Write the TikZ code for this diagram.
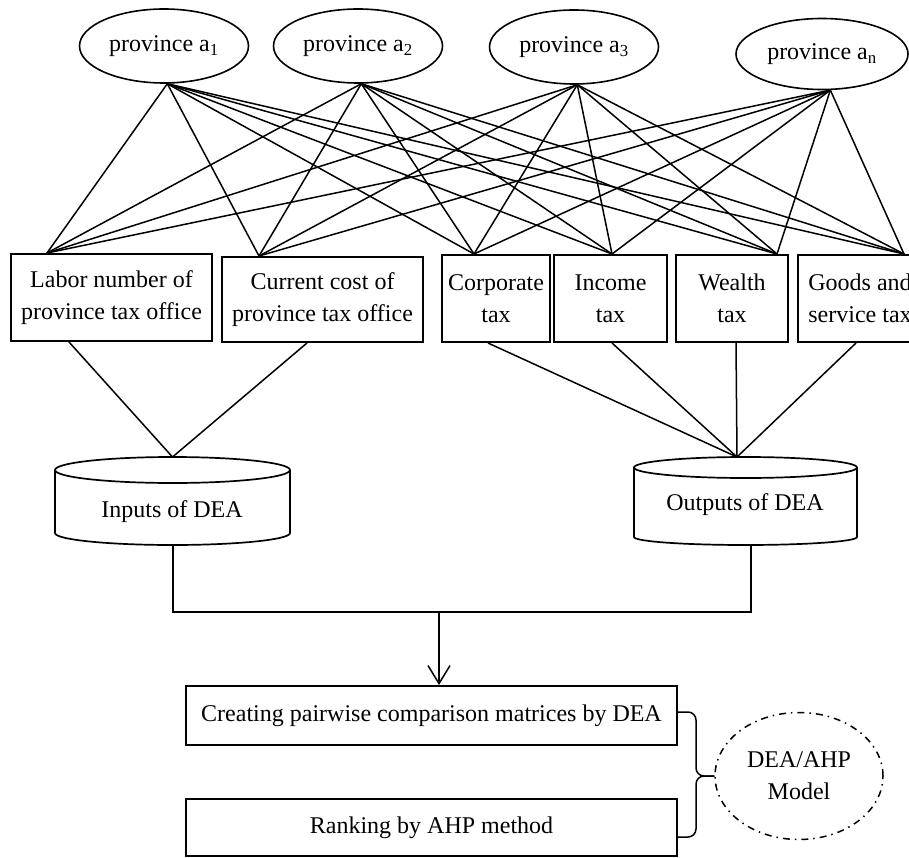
\documentclass[tikz,border=0pt]{standalone}
\usepackage{fontspec}
\setmainfont{Liberation Serif}
\usetikzlibrary{calc,arrows.meta,shapes.geometric}
\begin{document}
\begin{tikzpicture}[x=1pt,y=-1pt,
  txt/.style={font=\fontsize{24}{32}\selectfont, align=center},
  prov/.style={ellipse, draw, line width=1.6pt, inner sep=0pt, minimum width=169pt, minimum height=74pt, txt},
  box/.style={rectangle, draw, line width=2pt, inner sep=0pt, txt},
  conn/.style={line width=1.5pt},
  cyl/.style={line width=1.7pt},
  model/.style={ellipse, draw, line width=1.5pt, dash pattern=on 7pt off 5pt on 1.5pt off 5pt, inner sep=0pt, txt}]
\useasboundingbox (0,0) rectangle (909,858);
\clip (0,0) rectangle (909,858);

% provinces
\node[prov] (a1) at (164,46) {province a\textsubscript{1}};
\node[prov] (a2) at (358,46) {province a\textsubscript{2}};
\node[prov] (a3) at (574,47) {province a\textsubscript{3}};
\node[prov, minimum width=172pt, minimum height=71pt] (an) at (822,54) {province a\textsubscript{n}};

% criteria boxes
\node[box, minimum width=201pt, minimum height=87pt] (lab) at (111.5,297.5) {Labor number of\\province tax office};
\node[box, minimum width=201pt, minimum height=85pt] (cur) at (322.5,299.5) {Current cost of\\province tax office};
\node[box, minimum width=108pt, minimum height=87pt] (corp) at (496,298.5) {Corporate\\tax};
\node[box, minimum width=113pt, minimum height=87pt] (inc) at (610.5,298.5) {Income\\tax};
\node[box, minimum width=112pt, minimum height=87pt] (wea) at (732,298.5) {Wealth\\tax};
\node[box, minimum width=124pt, minimum height=87pt] (goo) at (860,298.5) {Goods and\\service tax};

% top connection points on boxes
\coordinate (labT) at ($(lab.north west)+(37,0)$);
\coordinate (curT) at ($(cur.north west)+(38,0)$);
\coordinate (corpT) at ($(corp.north west)+(33,0)$);
\coordinate (incT) at ($(inc.north west)+(59,0)$);
\coordinate (weaT) at ($(wea.north west)+(102,0)$);
\coordinate (gooT) at ($(goo.north west)+(107,0)$);
% bottom connection points on boxes
\coordinate (labB) at ($(lab.south west)+(59,0)$);
\coordinate (curB) at ($(cur.south west)+(86,0)$);
\coordinate (corpB) at ($(corp.south west)+(47,0)$);
\coordinate (incB) at ($(inc.south west)+(59,0)$);
\coordinate (weaB) at ($(wea.south west)+(61,0)$);
\coordinate (gooB) at ($(goo.south west)+(59,0)$);

% province bottom points
\coordinate (a1B) at (a1.-85);
\coordinate (a2B) at (a2.-85);
\coordinate (a3B) at (a3.-85);
\coordinate (anB) at (an.-77);

\foreach \p in {a1B,a2B,a3B,anB}{
  \foreach \b in {labT,curT,corpT,incT,weaT,gooT}{
    \draw[conn] (\p) -- (\b);
  }
}

% cylinders
\draw[cyl] (55,470) -- (55,533) arc[start angle=180, end angle=360, x radius=117.5pt, y radius=12pt] -- (290,470);
\draw[cyl, fill=white] (172.5,470) ellipse[x radius=117.5pt, y radius=13pt];
\node[txt] (inp) at (172,512) {Inputs of DEA};
\coordinate (inpT) at (172.5,457);
\coordinate (inpB) at (173,545);

\draw[cyl] (634,467.5) -- (634,537) arc[start angle=180, end angle=360, x radius=111.5pt, y radius=8pt] -- (857,467.5);
\draw[cyl, fill=white] (745.5,467.5) ellipse[x radius=111.5pt, y radius=10.5pt];
\node[txt] (outp) at (745,505) {Outputs of DEA};
\coordinate (outT) at (737,457);
\coordinate (outB) at (751,545);

\draw[conn] (labB) -- (inpT) -- (curB);
\foreach \b in {corpB,incB,weaB,gooB}{
  \draw[conn] (\b) -- (outT);
}

% joining lines
\coordinate (jL) at (173,612);
\coordinate (jR) at (751,612);
\coordinate (jM) at (439,612);
\draw[conn] (inpB) -- (jL) -- (jR) -- (outB);

% bottom boxes
\node[box, minimum width=491pt, minimum height=59pt] (create) at (431.5,715.5) {Creating pairwise comparison matrices by DEA};
\node[box, minimum width=491pt, minimum height=57pt] (rank) at (431.5,827.5) {Ranking by AHP method};

\draw[conn, -{Straight Barb[length=18pt, width=22pt, line width=1.5pt]}] (jM) -- (jM |- create.north);

% model
\node[model, minimum width=168pt, minimum height=127pt] (mdl) at (799,776) {DEA/AHP\\Model};

% brace
\coordinate (brT) at ($(create.east)+(0,-3.5)$);
\coordinate (brB) at ($(rank.east)+(0,9.5)$);
\draw[conn, rounded corners=8pt] (brT) -- (696,712) -- (696,776) -- (mdl.west);
\draw[conn, rounded corners=8pt] (brB) -- (696,837) -- (696,776) -- (mdl.west);
\end{tikzpicture}
\end{document}
